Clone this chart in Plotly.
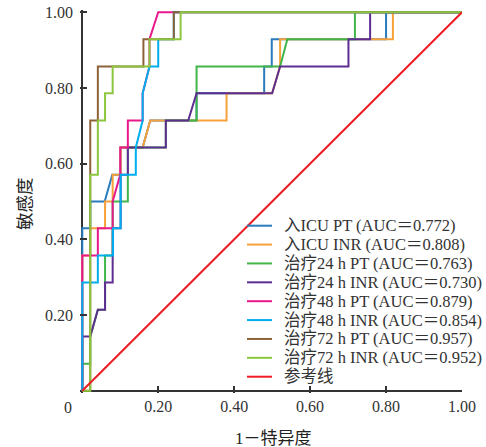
import plotly.graph_objects as go

# ---- data (1 - specificity, sensitivity) ----
names = ["入ICU PT (AUC＝0.772)", "入ICU INR (AUC＝0.808)", "治疗24 h PT (AUC＝0.763)",
         "治疗24 h INR (AUC＝0.730)", "治疗48 h PT (AUC＝0.879)", "治疗48 h INR (AUC＝0.854)",
         "治疗72 h PT (AUC＝0.957)", "治疗72 h INR (AUC＝0.952)", "参考线"]

icu_pt_x = [0, 0, 0.021, 0.021, 0.059, 0.079, 0.101, 0.101, 0.159, 0.179, 0.301, 0.301, 0.479, 0.479, 0.499, 0.499, 0.8, 0.8, 1]
icu_pt_y = [0, 0.429, 0.429, 0.5, 0.5, 0.571, 0.571, 0.643, 0.643, 0.714, 0.714, 0.786, 0.786, 0.857, 0.857, 0.929, 0.929, 1, 1]

icu_inr_x = [0, 0, 0.021, 0.021, 0.06, 0.06, 0.08, 0.08, 0.101, 0.101, 0.159, 0.179, 0.38, 0.38, 0.5, 0.521, 0.521, 0.818, 0.818, 1]
icu_inr_y = [0, 0.357, 0.357, 0.429, 0.429, 0.5, 0.5, 0.571, 0.571, 0.643, 0.643, 0.714, 0.714, 0.786, 0.786, 0.857, 0.929, 0.929, 1, 1]

t24_pt_x = [0, 0, 0.021, 0.021, 0.041, 0.06, 0.06, 0.08, 0.08, 0.12, 0.12, 0.22, 0.22, 0.301, 0.301, 0.521, 0.54, 0.718, 0.718, 1]
t24_pt_y = [0, 0.071, 0.071, 0.143, 0.214, 0.214, 0.357, 0.357, 0.5, 0.5, 0.643, 0.643, 0.714, 0.714, 0.857, 0.857, 0.929, 0.929, 1, 1]

t24_inr_x = [0, 0, 0.021, 0.041, 0.06, 0.06, 0.08, 0.08, 0.101, 0.101, 0.12, 0.12, 0.22, 0.22, 0.279, 0.301, 0.5, 0.521, 0.701, 0.701, 0.758, 0.758, 1]
t24_inr_y = [0, 0.143, 0.143, 0.214, 0.214, 0.286, 0.286, 0.429, 0.429, 0.571, 0.571, 0.643, 0.643, 0.714, 0.714, 0.786, 0.786, 0.857, 0.857, 0.929, 0.929, 1, 1]

t48_pt_x = [0, 0, 0.041, 0.041, 0.08, 0.08, 0.1, 0.1, 0.12, 0.12, 0.159, 0.159, 0.177, 0.177, 0.2, 1]
t48_pt_y = [0, 0.357, 0.357, 0.429, 0.429, 0.5, 0.571, 0.643, 0.643, 0.714, 0.714, 0.786, 0.857, 0.929, 1, 1]

t48_inr_x = [0, 0, 0.041, 0.041, 0.081, 0.081, 0.101, 0.101, 0.141, 0.141, 0.159, 0.159, 0.177, 0.2, 0.2, 0.241, 0.241, 1]
t48_inr_y = [0, 0.286, 0.286, 0.357, 0.357, 0.429, 0.429, 0.571, 0.571, 0.643, 0.714, 0.786, 0.857, 0.857, 0.929, 0.929, 1, 1]

t72_pt_x = [0, 0.021, 0.021, 0.041, 0.041, 0.161, 0.161, 0.241, 0.241, 1]
t72_pt_y = [0, 0, 0.714, 0.714, 0.857, 0.857, 0.929, 0.929, 1, 1]

t72_inr_x = [0, 0.021, 0.021, 0.041, 0.041, 0.06, 0.06, 0.08, 0.08, 0.177, 0.177, 0.259, 0.259, 1]
t72_inr_y = [0, 0, 0.571, 0.571, 0.714, 0.714, 0.786, 0.786, 0.857, 0.857, 0.929, 0.929, 1, 1]

ref_x = [0, 1]
ref_y = [0, 1]

tick_vals = [0.2, 0.4, 0.6, 0.8, 1.0]
tick_text = ["0.20", "0.40", "0.60", "0.80", "1.00"]

colors = ["#2a7bbb", "#f7a13a", "#41b549", "#5e2d91", "#e8198b", "#00aeef", "#8c6239", "#8cc63f", "#ee1c25"]

series = [(icu_pt_x, icu_pt_y), (icu_inr_x, icu_inr_y), (t24_pt_x, t24_pt_y), (t24_inr_x, t24_inr_y),
          (t48_pt_x, t48_pt_y), (t48_inr_x, t48_inr_y), (t72_pt_x, t72_pt_y), (t72_inr_x, t72_inr_y),
          (ref_x, ref_y)]

SERIF = "Liberation Serif, Times New Roman, Noto Sans CJK SC, serif"
TXT = "#333333"

W, H = 486, 447
ML, MR, MT, MB = 80, 24, 10, 54
PW, PH = W - ML - MR, H - MT - MB


def px2paper(px, py):
    return (px - ML) / PW, (H - MB - py) / PH


fig = go.Figure()
for (xs, ys), nm, c in zip(series, names, colors):
    fig.add_trace(go.Scatter(x=xs, y=ys, mode="lines", name=nm, showlegend=False,
                             line=dict(color=c, width=2)))

fig.update_layout(
    width=W, height=H,
    margin=dict(l=ML, r=MR, t=MT, b=MB, autoexpand=False),
    paper_bgcolor="white", plot_bgcolor="white",
    font=dict(family=SERIF, size=16, color=TXT),
    showlegend=False,
)
fig.update_xaxes(range=[-0.006, 1.0], tickvals=tick_vals, ticktext=tick_text,
                 showgrid=False, showline=False, zeroline=True, zerolinecolor=TXT,
                 zerolinewidth=1.5, ticks="inside", ticklen=7, tickcolor=TXT,
                 tickwidth=1.5, ticklabelstandoff=2,
                 tickfont=dict(family=SERIF, size=16, color=TXT))
fig.update_yaxes(range=[-0.006, 1.006], tickvals=tick_vals, ticktext=tick_text,
                 showgrid=False, showline=False, zeroline=True, zerolinecolor=TXT,
                 zerolinewidth=1.5, ticks="inside", ticklen=7, tickcolor=TXT,
                 tickwidth=1.5, ticklabelstandoff=6,
                 tickfont=dict(family=SERIF, size=16, color=TXT))

# origin label, axis titles
ax, ay = px2paper(68, 407)
fig.add_annotation(x=ax, y=ay, xref="paper", yref="paper", text="0", showarrow=False,
                   xanchor="center", yanchor="middle", font=dict(family=SERIF, size=16, color=TXT))
ax, ay = px2paper(273, 438)
fig.add_annotation(x=ax, y=ay, xref="paper", yref="paper", text="1－特异度", showarrow=False,
                   xanchor="center", yanchor="middle", font=dict(family=SERIF, size=17, color="#222222"))
ax, ay = px2paper(25, 203)
fig.add_annotation(x=ax, y=ay, xref="paper", yref="paper", text="敏感度", showarrow=False,
                   textangle=-90, xanchor="center", yanchor="middle",
                   font=dict(family=SERIF, size=17.5, color="#222222"))

# legend (drawn inside the plot area)
row0, dy = 225.7, 18.875
for i, (nm, c) in enumerate(zip(names, colors)):
    py = row0 + i * dy
    x0, y0 = px2paper(247, py)
    x1, _ = px2paper(272, py)
    fig.add_shape(type="line", xref="paper", yref="paper", x0=x0, x1=x1, y0=y0, y1=y0,
                  line=dict(color=c, width=2))
    tx, ty = px2paper(282, py)
    fig.add_annotation(x=tx, y=ty, xref="paper", yref="paper", text=nm, showarrow=False,
                       xanchor="left", yanchor="middle",
                       font=dict(family=SERIF, size=16.5, color=TXT))

fig.write_html("out.html", config={"displayModeBar": False},
               post_script="document.body.style.margin='0';document.body.style.overflow='hidden';")
